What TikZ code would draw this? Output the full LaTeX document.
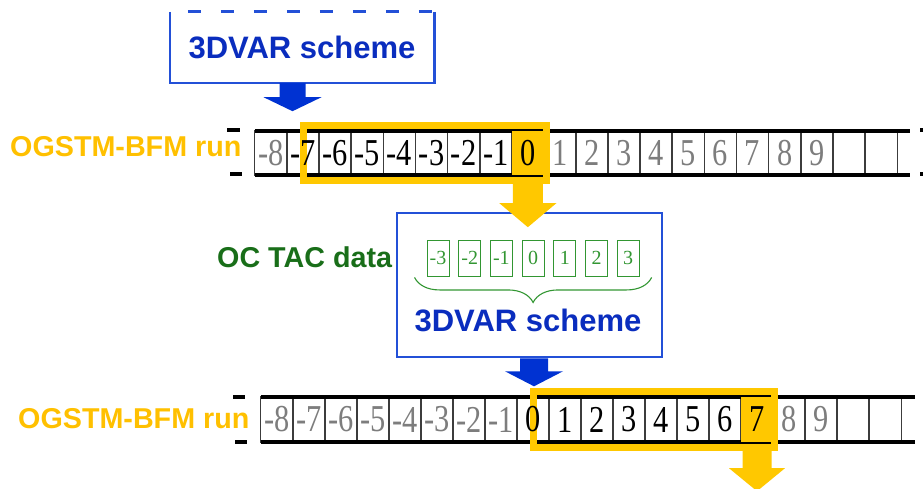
\documentclass[tikz,border=0pt]{standalone}
\usepackage{fontspec}
\setmainfont{Liberation Sans}
\newfontfamily\cellfont[FakeStretch=0.8]{Liberation Serif}
\newfontfamily\obsfont{Liberation Serif}
\usetikzlibrary{calc,decorations.pathreplacing}
\pgfdeclarelayer{grid}
\pgfdeclarelayer{hilite}
\pgfsetlayers{grid,hilite,main}
\definecolor{hlyellow}{RGB}{255,200,0}
\definecolor{runyellow}{RGB}{255,192,0}
\definecolor{boxblue}{RGB}{35,80,215}
\definecolor{textblue}{RGB}{10,45,190}
\definecolor{arrowblue}{RGB}{0,50,210}
\definecolor{obsgreen}{RGB}{50,150,50}
\definecolor{tacgreen}{RGB}{25,110,25}
\definecolor{numgray}{RGB}{125,125,125}
\definecolor{gridgray}{RGB}{60,60,60}
\tikzset{
  cell/.style={minimum width=32.1, minimum height=44, inner sep=0, font=\cellfont\fontsize{38}{40}\selectfont},
  gridline/.style={draw=gridgray, line width=1.3},
  rail/.style={line width=3.5},
  frame/.style={draw=hlyellow, line width=7},
  boxline/.style={draw=boxblue, line width=2.6},
  runlabel/.style={font=\bfseries\fontsize{28.7}{30}\selectfont, text=runyellow, inner sep=0},
  schemetext/.style={font=\bfseries\fontsize{31}{32}\selectfont, text=textblue, inner sep=0},
  obscell/.style={draw=obsgreen, line width=0.9, minimum width=22, minimum height=36, inner sep=0, text=obsgreen, font=\obsfont\fontsize{20}{21}\selectfont},
  obsbrace/.style={draw=obsgreen, line width=1.1, decorate, decoration={brace, mirror, amplitude=25pt}}
}
\newcommand{\fatarrow}[6]{%
  \fill[#1, shift={(#2)}] (-#3,0) -- (-#3,#4) -- (-#5,#4) -- (0,#4+#6) -- (#5,#4) -- (#3,#4) -- (#3,0) -- cycle;}

\begin{document}
\begin{tikzpicture}[x=1pt, y=-1pt]
    \useasboundingbox (0,0) rectangle (923,489);

    \node[runlabel, anchor=base west] (run1) at (10,157) {OGSTM-BFM run};
    \node[runlabel, anchor=base west] (run2) at (18,428) {OGSTM-BFM run};
    \node[font=\bfseries\fontsize{28.7}{30}\selectfont, text=tacgreen, inner sep=0, anchor=base west] (tacdata) at (217,267) {OC TAC data};

    \foreach \i in {0,...,19}{
        \pgfmathtruncatemacro\cval{\i-8}
        \ifnum\i<18 \edef\ctext{\cval}\else\def\ctext{}\fi
        \ifnum\i>0 \ifnum\i<9 \def\ccol{black}\else\def\ccol{numgray}\fi\else\def\ccol{numgray}\fi
        \node[cell, text=\ccol] (top\i) at (271.05+32.1*\i,153) {\ctext};
        \ifnum\i>7 \ifnum\i<16 \def\ccol{black}\else\def\ccol{numgray}\fi\else\def\ccol{numgray}\fi
        \node[cell, minimum width=32, minimum height=45, text=\ccol] (bot\i) at (277+32*\i,419.5) {\ctext};
        \begin{pgfonlayer}{grid}
            \draw[gridline] (top\i.north west) rectangle (top\i.south east);
            \draw[gridline] (bot\i.north west) rectangle (bot\i.south east);
        \end{pgfonlayer}
    }

    \begin{pgfonlayer}{grid}
        \draw[rail] (top0.north west) -- ($(top19.north east)+(13,0)$);
        \draw[rail] (top0.south west) -- ($(top19.south east)+(13,0)$);
        \draw[rail] (227,130) -- (240,130);
        \draw[rail] (230,174) -- (242,174);
        \draw[rail] (920,130) -- (923,130);
        \draw[rail] (920,174) -- (923,174);
        \draw[rail] (bot0.north west) -- ($(bot19.north east)+(14,0)$);
        \draw[rail] (bot0.south west) -- ($(bot19.south east)+(14,0)$);
        \draw[rail] (233,397) -- (245,397);
        \draw[rail] (235,442) -- (247,442);
    \end{pgfonlayer}

    \begin{pgfonlayer}{hilite}
        \fill[hlyellow] (top8.north west) rectangle (top8.south east);
        \draw[frame] ($(top1.center |- top1.north)+(0,-5.5)$) rectangle ($(top8.south east)+(2.5,5.5)$);
        \fill[hlyellow] (bot15.north west) rectangle (bot15.south east);
        \draw[frame] ($(bot8.center |- bot8.north)+(0,-5)$) rectangle ($(bot15.south east)+(1.5,5.5)$);
    \end{pgfonlayer}

    \node[schemetext, minimum width=264, minimum height=71] (oldvar) at (302,47.5) {3DVAR scheme};
    \draw[boxline] (oldvar.north west) -- (oldvar.south west) -- (oldvar.south east) -- (oldvar.north east);
    \draw[boxline, dash pattern=on 13pt off 20pt, dash phase=15pt] (oldvar.north west) -- (oldvar.north east);

    \node[boxline, minimum width=265, minimum height=144, inner sep=0] (newvar) at (529.5,285) {};
    \node[schemetext, anchor=base] (newvartext) at (528,331) {3DVAR scheme};

    \foreach \k in {0,...,6}{
        \pgfmathtruncatemacro\oval{\k-3}
        \node[obscell] (obs\k) at (438+31.7*\k,258) {\oval};
    }
    \draw[obsbrace] ($(obs0.south west)+(-12,1)$) -- ($(obs6.south east)+(12,1)$);

    \coordinate (btop) at ($(oldvar.south)+(-9.5,0)$);
    \coordinate (bmid) at ($(newvar.south)+(4.5,0)$);
    \coordinate (ytop) at ($(top8.south)+(0,9)$);
    \coordinate (ybot) at ($(bot15.south)+(0,9)$);
    \fatarrow{arrowblue}{btop}{13}{14}{29}{14}
    \fatarrow{arrowblue}{bmid}{14}{13}{29}{15}
    \fatarrow{hlyellow}{ytop}{15}{19}{28.5}{24}
    \fatarrow{hlyellow}{ybot}{14.5}{17}{28}{23}
\end{tikzpicture}
\end{document}
